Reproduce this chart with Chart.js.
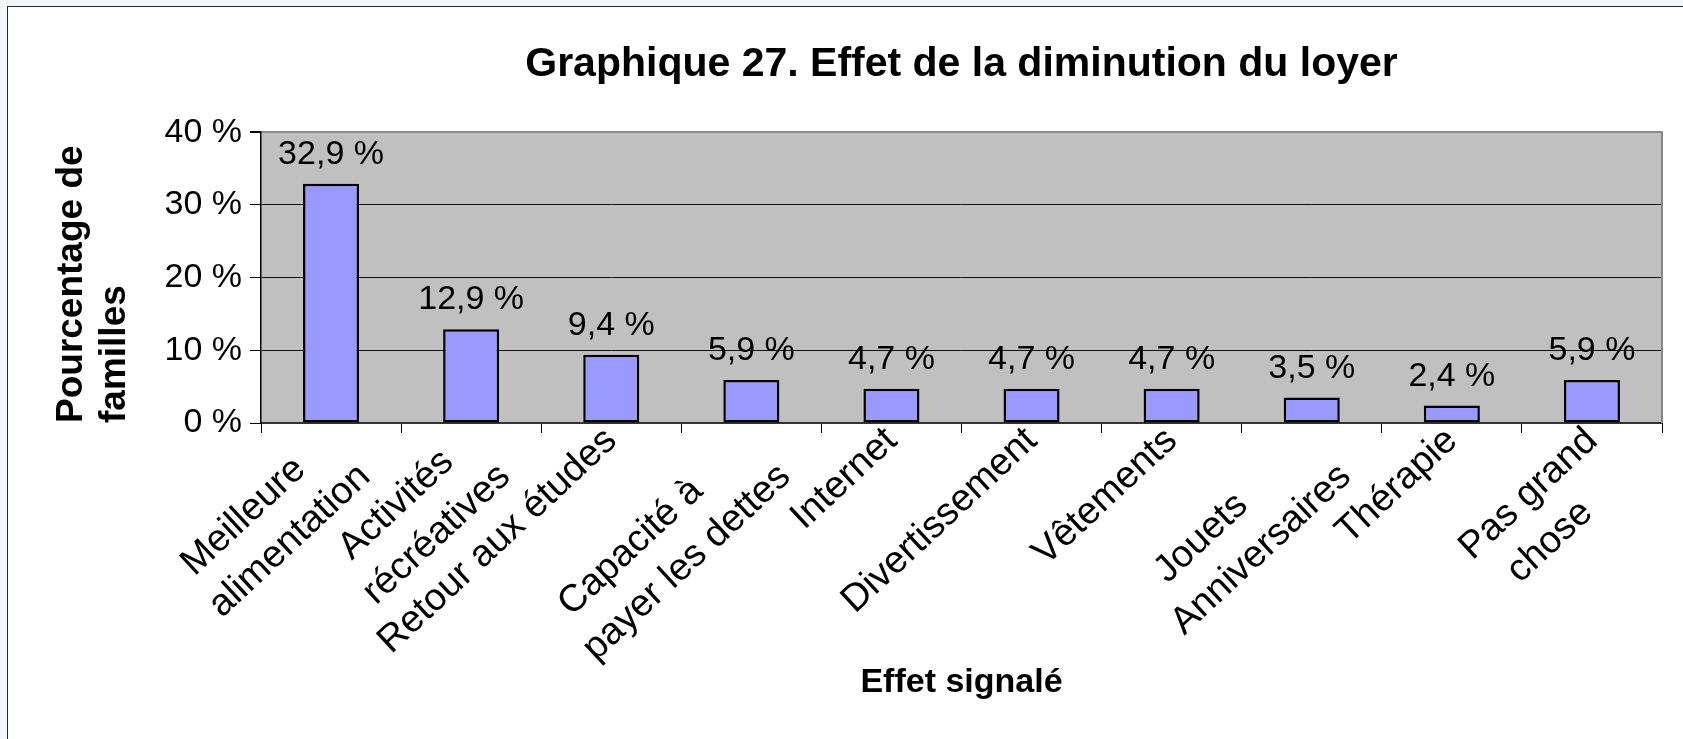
<!DOCTYPE html>
<html lang="fr">
<head>
<meta charset="utf-8">
<title>Graphique 27</title>
<script src="https://cdn.jsdelivr.net/npm/chart.js@4.4.1/dist/chart.umd.min.js"></script>
<style>
  html, body { margin: 0; padding: 0; }
  body { width: 1683px; height: 739px; overflow: hidden; background: #f3f7fb; position: relative; }
  #frame { position: absolute; left: 7px; top: 6px; width: 1700px; height: 760px; background: #fff; border: 1px solid #2a2a2a; }
  #wrap { position: absolute; left: 0; top: 0; width: 1683px; height: 739px; }
</style>
</head>
<body>
<div id="frame"></div>
<div id="wrap"><canvas id="chart" width="1683" height="739"></canvas></div>
<script>
// données
const categories = [
    ['Meilleure', 'alimentation'],
    ['Activités', 'récréatives'],
    'Retour aux études',
    ['Capacité à', 'payer les dettes'],
    'Internet',
    'Divertissement',
    'Vêtements',
    ['Jouets', 'Anniversaires'],
    'Thérapie',
    ['Pas grand', 'chose']
];
const percentages = [32.9, 12.9, 9.4, 5.9, 4.7, 4.7, 4.7, 3.5, 2.4, 5.9];
const yTicks = [0, 10, 20, 30, 40];

const FONT = '"Liberation Sans", Arial, Helvetica, sans-serif';
const xLabelFont = { family: FONT, size: 38, lineHeight: 1.3 };

// aligne les lignes au début (les étiquettes tournées sont alignées à droite par Chart.js)
const measureCtx = document.createElement('canvas').getContext('2d');
measureCtx.font = xLabelFont.size + 'px ' + FONT;
function alignLines(label) {
    if (!Array.isArray(label)) return label;
    const widths = label.map(l => measureCtx.measureText(l).width);
    const maxW = Math.max(...widths);
    const sp = measureCtx.measureText(' ').width;
    return label.map((l, i) => l + ' '.repeat(Math.round((maxW - widths[i]) * 0.8 / sp)));
}

const fmt = v => v.toFixed(1).replace('.', ',') + ' %';

const plotBackground = {
    id: 'plotBackground',
    beforeDraw(chart) {
        const { ctx, chartArea: a } = chart;
        ctx.save();
        ctx.fillStyle = '#c0c0c0';
        ctx.fillRect(a.left, a.top, a.right - a.left, a.bottom - a.top);
        ctx.restore();
    },
    beforeDatasetsDraw(chart) {
        const { ctx, chartArea: a } = chart;
        ctx.save();
        ctx.strokeStyle = '#858585';
        ctx.lineWidth = 2;
        ctx.beginPath();
        ctx.moveTo(a.right, a.top - 1);
        ctx.lineTo(a.right, a.bottom);
        ctx.stroke();
        ctx.restore();
    }
};

const valueLabels = {
    id: 'valueLabels',
    afterDatasetsDraw(chart) {
        const { ctx } = chart;
        const meta = chart.getDatasetMeta(0);
        ctx.save();
        ctx.font = '34px ' + FONT;
        ctx.fillStyle = '#000';
        ctx.textAlign = 'center';
        ctx.textBaseline = 'alphabetic';
        meta.data.forEach((bar, i) => {
            ctx.fillText(fmt(percentages[i]), bar.x, bar.y - 20);
        });
        ctx.restore();
    }
};

Chart.defaults.color = '#000';
Chart.defaults.font.family = FONT;

new Chart(document.getElementById('chart'), {
    type: 'bar',
    data: {
        labels: categories,
        datasets: [{
            data: percentages,
            backgroundColor: '#9999ff',
            borderColor: '#000',
            borderWidth: 2.5,
            borderSkipped: false,
            barPercentage: 0.4,
            categoryPercentage: 1
        }]
    },
    options: {
        responsive: false,
        animation: false,
        devicePixelRatio: 1,
        layout: { padding: { left: 20, right: 21, top: 0, bottom: 20 } },
        plugins: {
            legend: { display: false },
            tooltip: { enabled: false },
            title: {
                display: true,
                fullSize: false,
                text: 'Graphique 27. Effet de la diminution du loyer',
                font: { family: FONT, size: 41, weight: 'bold' },
                color: '#000',
                padding: { top: 40, bottom: 43 }
            }
        },
        scales: {
            x: {
                offset: true,
                grid: {
                    offset: true,
                    drawOnChartArea: false,
                    drawTicks: true,
                    tickLength: 10,
                    color: '#000',
                    lineWidth: 1
                },
                border: { color: '#333', width: 2 },
                ticks: {
                    minRotation: 43,
                    maxRotation: 43,
                    autoSkip: false,
                    padding: -16,
                    font: xLabelFont,
                    callback(value) { return alignLines(this.getLabelForValue(value)); }
                },
                title: {
                    display: true,
                    text: 'Effet signalé',
                    font: { family: FONT, size: 34, weight: 'bold' },
                    padding: { top: 0, bottom: 16 }
                },
                afterFit(scale) { scale.height = 296; }
            },
            y: {
                min: 0,
                max: 40,
                afterBuildTicks(scale) { scale.ticks = yTicks.map(v => ({ value: v })); },
                grid: {
                    color: ctx => ctx.tick && ctx.tick.value === 40 ? '#8a8a8a' : '#111',
                    lineWidth: ctx => ctx.tick && ctx.tick.value === 40 ? 2 : 1,
                    tickColor: '#000',
                    tickLength: 11
                },
                border: { color: '#000', width: 1.5 },
                ticks: {
                    padding: 8,
                    font: { family: FONT, size: 34 },
                    callback: v => v + ' %'
                },
                title: {
                    display: true,
                    text: ['Pourcentage de', 'familles'],
                    align: 'start',
                    font: { family: FONT, size: 37, weight: 'bold', lineHeight: 1.16 },
                    padding: { top: 30, bottom: 0 }
                },
                afterFit(scale) { scale.width = 241; }
            }
        }
    },
    plugins: [plotBackground, valueLabels]
});
</script>
</body>
</html>
